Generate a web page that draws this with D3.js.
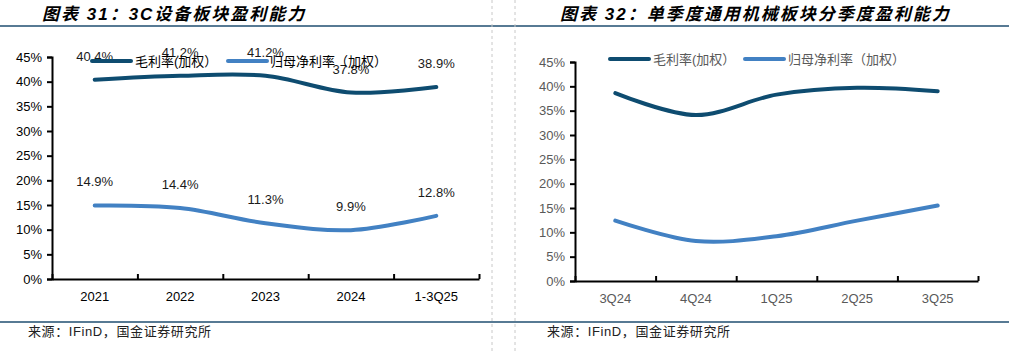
<!DOCTYPE html>
<html>
<head>
<meta charset="utf-8">
<script src="https://cdn.jsdelivr.net/npm/d3@7"></script>
<style>
  body { margin: 0; background: #fff; }
  svg { display: block; }
  text { font-family: "Liberation Sans", Arial, "Noto Sans CJK SC", sans-serif; }
  .cjk { font-family: "Liberation Sans", "Noto Sans CJK SC", sans-serif; }
</style>
</head>
<body>
<div id="chart"></div>
<script>
// ---- data ----
const yTicks = [0, 5, 10, 15, 20, 25, 30, 35, 40, 45];
const seriesNames = ["毛利率(加权）", "归母净利率（加权）"];

const leftCategories = ["2021", "2022", "2023", "2024", "1-3Q25"];
const leftGross = [40.4, 41.2, 41.2, 37.8, 38.9];
const leftNet = [14.9, 14.4, 11.3, 9.9, 12.8];

const rightCategories = ["3Q24", "4Q24", "1Q25", "2Q25", "3Q25"];
const rightGross = [38.6, 34.1, 38.3, 39.7, 39.0];
const rightNet = [12.4, 8.2, 9.2, 12.4, 15.5];

const colors = ["#0e4c70", "#4281c3"];

const W = 1009, H = 351;
const svg = d3.select("#chart").append("svg")
    .attr("width", W).attr("height", H);

svg.append("rect").attr("width", W).attr("height", H).attr("fill", "#fff");

// frame lines
svg.append("line").attr("x1", 0).attr("x2", W).attr("y1", 26).attr("y2", 26)
    .attr("stroke", "#1f4e70").attr("stroke-width", 1.5);
svg.append("line").attr("x1", 0).attr("x2", W).attr("y1", 322).attr("y2", 322)
    .attr("stroke", "#1f4e70").attr("stroke-width", 1.5);
[492, 515].forEach(x => {
    svg.append("line").attr("x1", x).attr("x2", x).attr("y1", 0).attr("y2", H)
        .attr("stroke", "#c8c8c8").attr("stroke-dasharray", "3,3");
});

// titles + sources
const titles = [
    { x: 42, text: "图表 31：3C设备板块盈利能力" },
    { x: 560, text: "图表 32：单季度通用机械板块分季度盈利能力" }
];
titles.forEach(t => {
    svg.append("text").attr("class", "cjk")
        .attr("x", t.x).attr("y", 20)
        .attr("font-size", 17).attr("font-weight", "bold").attr("font-style", "italic")
        .attr("letter-spacing", 2).attr("fill", "#000")
        .text(t.text);
});
[28, 547].forEach(x => {
    svg.append("text").attr("class", "cjk")
        .attr("x", x).attr("y", 336)
        .attr("font-size", 13).attr("letter-spacing", 0.6).attr("fill", "#222")
        .text("来源：IFinD，国金证券研究所");
});

function drawChart(opts) {
    const { x0, x1, yTop, yBottom, categories, gross, net, textColor, showLabels, legendX } = opts;

    const g = svg.append("g");
    const x = d3.scaleBand().domain(categories).range([x0, x1]);
    const y = d3.scaleLinear().domain([0, 45]).range([yBottom, yTop]);

    // y axis
    const yAxis = g.append("g")
        .attr("transform", `translate(${x0},0)`)
        .call(d3.axisLeft(y).tickValues(yTicks).tickSize(5).tickPadding(5).tickFormat(d => d + "%"));
    yAxis.select(".domain").attr("stroke", "#000").attr("stroke-width", 2);
    yAxis.selectAll(".tick line").attr("stroke", "#000").attr("stroke-width", 2);
    yAxis.selectAll("text").attr("font-size", 13).attr("fill", textColor)
        .attr("font-family", "Liberation Sans, Arial, sans-serif");

    // x axis: boundary ticks pointing up
    const bounds = d3.range(categories.length + 1).map(i => x0 + i * x.step());
    const xb = d3.scaleLinear().domain([x0, x1]).range([x0, x1]);
    const xAxis = g.append("g")
        .attr("transform", `translate(0,${yBottom})`)
        .call(d3.axisBottom(xb).tickValues(bounds).tickSize(-5).tickSizeOuter(0).tickFormat(""));
    xAxis.select(".domain").attr("stroke", "#000").attr("stroke-width", 2);
    xAxis.selectAll(".tick line").attr("stroke", "#000").attr("stroke-width", 2);

    const xLab = g.append("g")
        .attr("transform", `translate(0,${yBottom})`)
        .call(d3.axisBottom(x).tickSize(0).tickPadding(13));
    xLab.select(".domain").remove();
    xLab.selectAll("text").attr("font-size", 13).attr("fill", textColor)
        .attr("font-family", "Liberation Sans, Arial, sans-serif");

    // lines
    const line = d3.line()
        .x((d, i) => x(categories[i]) + x.bandwidth() / 2)
        .y(d => y(d))
        .curve(d3.curveCatmullRom.alpha(0.5));

    [gross, net].forEach((s, k) => {
        g.append("path").datum(s)
            .attr("d", line)
            .attr("fill", "none")
            .attr("stroke", colors[k])
            .attr("stroke-width", 4)
            .attr("stroke-linecap", "round");
    });

    // data labels
    if (showLabels) {
        [gross, net].forEach(s => {
            g.selectAll(null).data(s).enter().append("text")
                .attr("x", (d, i) => x(categories[i]) + x.bandwidth() / 2)
                .attr("y", d => y(d) - 19)
                .attr("text-anchor", "middle")
                .attr("font-size", 13)
                .attr("fill", "#1a1a1a")
                .text(d => d.toFixed(1) + "%");
        });
    }

    // legend
    const ly = opts.legendY;
    const items = [
        { sx: legendX[0], tx: legendX[1], name: seriesNames[0], color: colors[0] },
        { sx: legendX[2], tx: legendX[3], name: seriesNames[1], color: colors[1] }
    ];
    items.forEach(it => {
        g.append("line")
            .attr("x1", it.sx).attr("x2", it.sx + 39)
            .attr("y1", ly).attr("y2", ly)
            .attr("stroke", it.color).attr("stroke-width", 4).attr("stroke-linecap", "round");
        g.append("text").attr("class", "cjk")
            .attr("x", it.tx).attr("y", ly + 5)
            .attr("font-size", 13).attr("fill", textColor)
            .text(it.name);
    });
}

drawChart({
    x0: 52, x1: 479, yTop: 57, yBottom: 279,
    categories: leftCategories, gross: leftGross, net: leftNet,
    textColor: "#000", showLabels: true,
    legendY: 61, legendX: [92, 135, 228, 270]
});

drawChart({
    x0: 575, x1: 978, yTop: 62, yBottom: 281,
    categories: rightCategories, gross: rightGross, net: rightNet,
    textColor: "#595959", showLabels: false,
    legendY: 59, legendX: [610, 653, 745, 788]
});
</script>
</body>
</html>
